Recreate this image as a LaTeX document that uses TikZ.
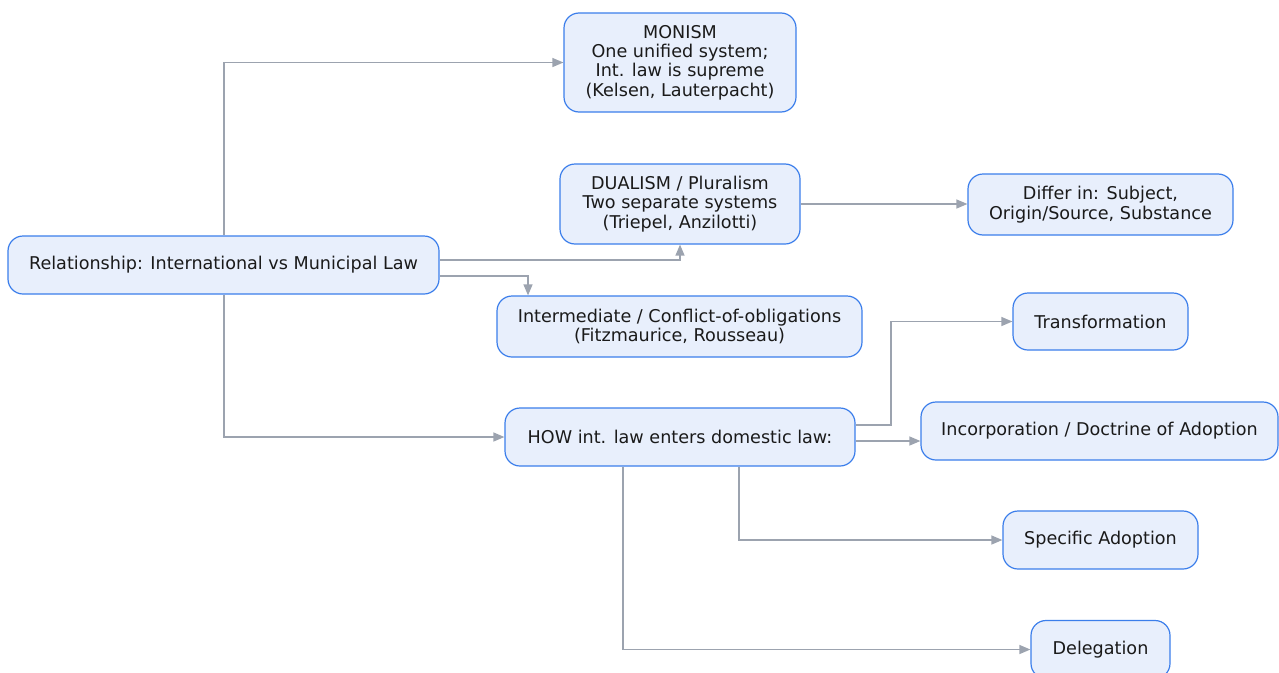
\documentclass[tikz,border=0pt]{standalone}
\usepackage{fontspec}
\setmainfont{DejaVu Sans}
\usetikzlibrary{arrows.meta}
\definecolor{boxfill}{HTML}{E8EFFC}
\definecolor{boxline}{HTML}{3B7EEB}
\definecolor{linkgray}{HTML}{9CA3AF}
\definecolor{txt}{HTML}{1A1A1A}
\tikzset{
  card/.style={draw=boxline, fill=boxfill, line width=1.2pt, rounded corners=15pt,
    align=center, text=txt, inner sep=0pt, font=\fontsize{17.6}{19.4}\selectfont},
  link/.style={draw=linkgray, line width=1.3pt, -{Triangle[length=11pt,width=9pt]}}
}
\begin{document}
\begin{tikzpicture}[x=1pt,y=-1pt]
\useasboundingbox (0,0) rectangle (1279,672);

% nodes (centre, width, height)
\node[card, minimum width=431, minimum height=58] (rel) at (223.5,265) {Relationship: International vs Municipal Law};
\node[card, minimum width=232, minimum height=99] (mon) at (680,62.5) {MONISM\\One unified system;\\Int. law is supreme\\(Kelsen, Lauterpacht)};
\node[card, minimum width=240, minimum height=80] (dua) at (680,204) {DUALISM / Pluralism\\Two separate systems\\(Triepel, Anzilotti)};
\node[card, minimum width=265, minimum height=61] (dif) at (1100.5,204.5) {Differ in: Subject,\\Origin/Source, Substance};
\node[card, minimum width=365, minimum height=61] (mid) at (679.5,326.5) {Intermediate / Conflict-of-obligations\\(Fitzmaurice, Rousseau)};
\node[card, minimum width=350, minimum height=58] (how) at (680,437) {HOW int. law enters domestic law:};
\node[card, minimum width=175, minimum height=57] (tra) at (1100.5,321.5) {Transformation};
\node[card, minimum width=357, minimum height=58] (inc) at (1099.5,431) {Incorporation / Doctrine of Adoption};
\node[card, minimum width=195, minimum height=58] (spe) at (1100.5,540) {Specific Adoption};
\node[card, minimum width=139, minimum height=58] (del) at (1100.5,649.5) {Delegation};

% connectors
\draw[link] (rel.north -| 224,0) |- (mon.west);
\draw[link] (rel.east |- 0,260) -| (dua.south);
\draw[link] (rel.east |- 0,276) -| (mid.north -| 528,0);
\draw[link] (rel.south -| 224,0) |- (how.west);
\draw[link] (dua.east) -- (dif.west |- dua.east);
\draw[link] (how.east |- 0,425) -- (891,425) |- (tra.west);
\draw[link] (how.east |- 0,441) -- (inc.west |- 0,441);
\draw[link] (how.south -| 739,0) |- (spe.west);
\draw[link] (how.south -| 623,0) |- (del.west);
\end{tikzpicture}
\end{document}
